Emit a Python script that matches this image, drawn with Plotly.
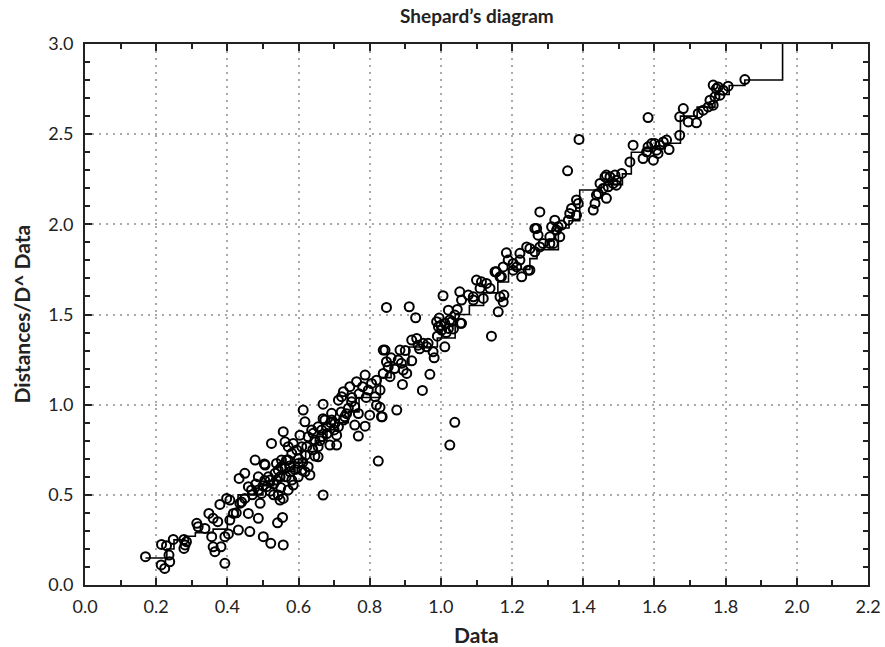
import plotly.graph_objects as go

# ---- scatter data: (Data, Distances) pairs grouped by region ----
pts_low = [(0.17,0.157),(0.215,0.225),(0.229,0.218),(0.214,0.111),(0.224,0.092),(0.238,0.129),(0.236,0.166),
           (0.248,0.253),(0.278,0.253),(0.281,0.222),(0.278,0.203),(0.285,0.240),(0.314,0.342),(0.318,0.323),
           (0.337,0.314),(0.348,0.397),(0.360,0.370),(0.373,0.351),(0.379,0.447),(0.356,0.268),(0.360,0.212),
           (0.365,0.185),(0.382,0.212),(0.393,0.120),(0.393,0.268),(0.403,0.283),(0.398,0.480),(0.407,0.471),
           (0.407,0.360),(0.417,0.397),(0.425,0.40),(0.431,0.305),(0.433,0.591),(0.449,0.619),(0.435,0.453),
           (0.449,0.480),(0.44,0.46)]
pts_mid1 = [(0.459,0.545),(0.468,0.527),(0.459,0.397),(0.463,0.296),(0.478,0.693),(0.487,0.527),(0.492,0.453),
            (0.487,0.370),(0.501,0.268),(0.506,0.665),(0.520,0.582),(0.510,0.545),(0.524,0.785),(0.522,0.231),
            (0.541,0.345),(0.555,0.375),(0.557,0.222),(0.543,0.499),(0.548,0.471),(0.557,0.480),(0.538,0.582),
            (0.543,0.637),(0.538,0.674),(0.552,0.693),(0.557,0.850),(0.562,0.647),(0.571,0.693),(0.562,0.794),
            (0.581,0.730),(0.581,0.582),(0.585,0.554),(0.571,0.527),(0.599,0.674),(0.599,0.600),(0.609,0.637),
            (0.487,0.600),(0.504,0.671),(0.496,0.508),(0.515,0.600),(0.534,0.619),(0.552,0.656),(0.548,0.600),
            (0.566,0.693),(0.571,0.767),(0.576,0.628),(0.585,0.785),(0.595,0.748),(0.604,0.831),(0.609,0.767),
            (0.618,0.628),(0.52,0.52),(0.53,0.56),(0.55,0.54),(0.565,0.60),(0.575,0.66),(0.59,0.64),(0.60,0.70),
            (0.612,0.68),(0.47,0.50),(0.48,0.56),(0.50,0.55),(0.505,0.58),(0.53,0.50)]
pts_mid2 = [(0.613,0.970),(0.618,0.905),(0.623,0.767),(0.627,0.656),(0.632,0.610),(0.637,0.859),(0.646,0.804),
            (0.655,0.711),(0.655,0.877),(0.669,1.003),(0.669,0.499),(0.674,0.915),(0.688,0.776),(0.693,0.952),
            (0.707,0.776),(0.712,0.877),(0.721,1.044),(0.627,0.822),(0.641,0.841),(0.646,0.715),(0.655,0.767),
            (0.665,0.822),(0.665,0.859),(0.669,0.922),(0.679,0.877),(0.693,0.915),(0.707,0.831),(0.702,0.896),
            (0.712,1.025),(0.726,0.915),(0.730,0.933),(0.726,1.072),(0.749,1.016),(0.744,1.100),(0.758,0.988),
            (0.768,0.951),(0.758,0.887),(0.787,0.881),(0.768,0.826),(0.763,1.127),(0.787,1.164),(0.805,1.118),
            (0.800,0.942),(0.833,0.933),(0.829,0.985),(0.824,0.687),(0.838,1.303),(0.815,1.044),(0.796,1.081),
            (0.64,0.75),(0.68,0.84),(0.70,0.86),(0.72,0.96),(0.74,0.98),(0.75,1.04),(0.77,1.06),(0.78,1.10),
            (0.79,1.04),(0.66,0.80),(0.62,0.72),(0.69,0.90),(0.735,0.95)]
pts_mid3 = [(0.819,1.136),(0.829,1.081),(0.838,1.173),(0.843,1.303),(0.847,1.238),(0.852,1.210),(0.857,1.155),
            (0.835,0.933),(0.819,0.998),(0.876,0.970),(0.885,1.303),(0.880,1.247),(0.889,1.229),(0.894,1.192),
            (0.904,1.173),(0.892,1.112),(0.918,1.243),(0.918,1.358),(0.932,1.367),(0.936,1.330),(0.950,1.340),
            (0.960,1.321),(0.964,1.340),(0.978,1.293),(0.981,1.260),(0.969,1.168),(0.948,1.079),(0.847,1.539),
            (0.911,1.543),(0.929,1.482),(1.006,1.604),(0.988,1.460),(0.993,1.432),(1.002,1.414),(1.011,1.451),
            (1.021,1.423),(1.030,1.460),(1.021,1.524),(1.011,1.321),(1.039,1.497),(1.046,1.528),(1.055,1.451),
            (1.039,0.902),(1.025,0.776),(0.86,1.26),(0.87,1.20),(0.90,1.30),(0.94,1.31),(0.99,1.38),(1.00,1.44),
            (1.015,1.40),(1.025,1.47),(1.035,1.42),(0.995,1.48)]
pts_high1 = [(1.053,1.626),(1.058,1.580),(1.077,1.608),(1.091,1.580),(1.100,1.691),(1.110,1.645),(1.119,1.589),
             (1.128,1.672),(1.138,1.645),(1.152,1.737),(1.161,1.515),(1.142,1.380),(1.175,1.570),(1.177,1.608),
             (1.184,1.842),(1.222,1.839),(1.250,1.746),(1.227,1.709),(1.203,1.746),(1.166,1.709),(1.156,1.737),
             (1.114,1.681),(1.091,1.598),(1.058,1.451),(1.170,1.709),(1.175,1.764),(1.189,1.802),(1.203,1.783),
             (1.213,1.764),(1.241,1.875),(1.250,1.866),(1.264,1.848),(1.278,1.875),(1.269,1.977),(1.278,2.069),
             (1.287,1.894),(1.245,1.746),(1.222,1.802),(1.166,1.598),(1.264,1.977),(1.273,1.940)]
pts_high2 = [(1.306,1.894),(1.311,1.986),(1.320,2.023),(1.325,1.968),(1.334,1.931),(1.339,1.996),(1.358,2.023),
             (1.362,2.060),(1.367,2.088),(1.381,2.051),(1.386,2.116),(1.356,2.297),(1.388,2.471),(1.428,2.079),
             (1.433,2.116),(1.437,2.162),(1.447,2.227),(1.461,2.263),(1.465,2.144),(1.456,2.199),(1.470,2.208),
             (1.442,2.171),(1.475,2.263),(1.484,2.227),(1.493,2.245),(1.508,2.282),(1.316,1.894),(1.306,1.931),
             (1.329,1.986),(1.381,2.135),(1.465,2.273),(1.489,2.273),(1.493,2.217)]
pts_top = [(1.531,2.346),(1.540,2.439),(1.568,2.365),(1.578,2.402),(1.582,2.430),(1.592,2.448),(1.597,2.356),
           (1.606,2.411),(1.615,2.439),(1.625,2.457),(1.634,2.467),(1.641,2.415),(1.582,2.592),(1.671,2.494),
           (1.681,2.642),(1.671,2.596),(1.695,2.568),(1.718,2.563),(1.723,2.615),(1.737,2.633),(1.751,2.651),
           (1.756,2.688),(1.770,2.707),(1.779,2.762),(1.765,2.772),(1.774,2.753),(1.784,2.716),(1.793,2.744),
           (1.807,2.766),(1.854,2.803),(1.765,2.661),(1.601,2.448),(1.610,2.393)]

# ---- step line (D-hat) ----
step_x = [0.17, 0.23, 0.25, 0.28, 0.31, 0.36, 0.40, 0.43, 0.50, 0.53, 0.56, 0.59, 0.62, 0.65, 0.68,
          0.71, 0.74, 0.77, 0.83, 0.86, 0.91, 0.99, 1.04, 1.08, 1.12, 1.16, 1.19, 1.25, 1.27, 1.33,
          1.36, 1.39, 1.45, 1.51, 1.535, 1.57, 1.63, 1.673, 1.72, 1.77, 1.81, 1.854, 1.96]
step_y = [0.15, 0.20, 0.25, 0.27, 0.29, 0.31, 0.38, 0.50, 0.55, 0.58, 0.63, 0.68, 0.74, 0.80, 0.86,
          0.90, 0.96, 1.04, 1.15, 1.22, 1.32, 1.37, 1.50, 1.55, 1.62, 1.68, 1.75, 1.81, 1.86, 1.98,
          2.02, 2.19, 2.22, 2.28, 2.40, 2.42, 2.45, 2.60, 2.65, 2.72, 2.77, 2.80, 3.0]

title_text = "Shepard’s diagram"
x_title = "Data"
y_title = "Distances/D^ Data"

all_pts = pts_low + pts_mid1 + pts_mid2 + pts_mid3 + pts_high1 + pts_high2 + pts_top
data_x = [p[0] for p in all_pts]
dist_y = [p[1] for p in all_pts]

FONT = "Lato, 'Open Sans', sans-serif"
INK = "#222222"

fig = go.Figure()
fig.add_trace(go.Scatter(x=data_x, y=dist_y, mode="markers",
                         marker=dict(symbol="circle-open", size=9, color="black",
                                     line=dict(width=2, color="black")),
                         showlegend=False, cliponaxis=False))
fig.add_trace(go.Scatter(x=step_x, y=step_y, mode="lines", line_shape="hv",
                         line=dict(color="black", width=1.6), showlegend=False))

axis_common = dict(showline=True, linecolor=INK, linewidth=2, mirror="ticks",
                   ticks="inside", ticklen=7, tickwidth=1.5, tickcolor=INK,
                   showgrid=True, gridcolor="#aaaaaa", griddash="2px,5px", gridwidth=1.5,
                   zeroline=False, automargin=False,
                   tickfont=dict(family=FONT, size=18, color=INK),
                   tickformat=".1f")

fig.update_xaxes(range=[0, 2.2], dtick=0.2, tick0=0, ticklabelstandoff=4,
                 minor=dict(dtick=0.1, ticks="inside", ticklen=5, tickcolor=INK, showgrid=False),
                 **axis_common)
fig.update_yaxes(range=[0, 3.0], dtick=0.5, tick0=0, ticklabelstandoff=6,
                 minor=dict(dtick=0.1, ticks="inside", ticklen=5, tickcolor=INK, showgrid=False),
                 **axis_common)

fig.update_layout(
    width=885, height=647,
    margin=dict(l=85, r=17, t=44, b=62),
    plot_bgcolor="white", paper_bgcolor="white",
    annotations=[
        dict(text=f"<b>{title_text}</b>", xref="paper", yref="paper", x=0.5, y=1,
             xanchor="center", yanchor="middle", yshift=29, showarrow=False,
             font=dict(family=FONT, size=19, color=INK)),
        dict(text=f"<b>{x_title}</b>", xref="paper", yref="paper", x=0.5, y=0,
             xanchor="center", yanchor="middle", yshift=-49, showarrow=False,
             font=dict(family=FONT, size=21, color=INK)),
        dict(text=f"<b>{y_title}</b>", xref="paper", yref="paper", x=0, y=0.5,
             xanchor="center", yanchor="middle", xshift=-64, textangle=-90, showarrow=False,
             font=dict(family=FONT, size=21, color=INK)),
    ],
)

fig.write_html("out.html", config={"displayModeBar": False},
               post_script="document.body.style.margin='0';document.body.style.overflow='hidden';")
